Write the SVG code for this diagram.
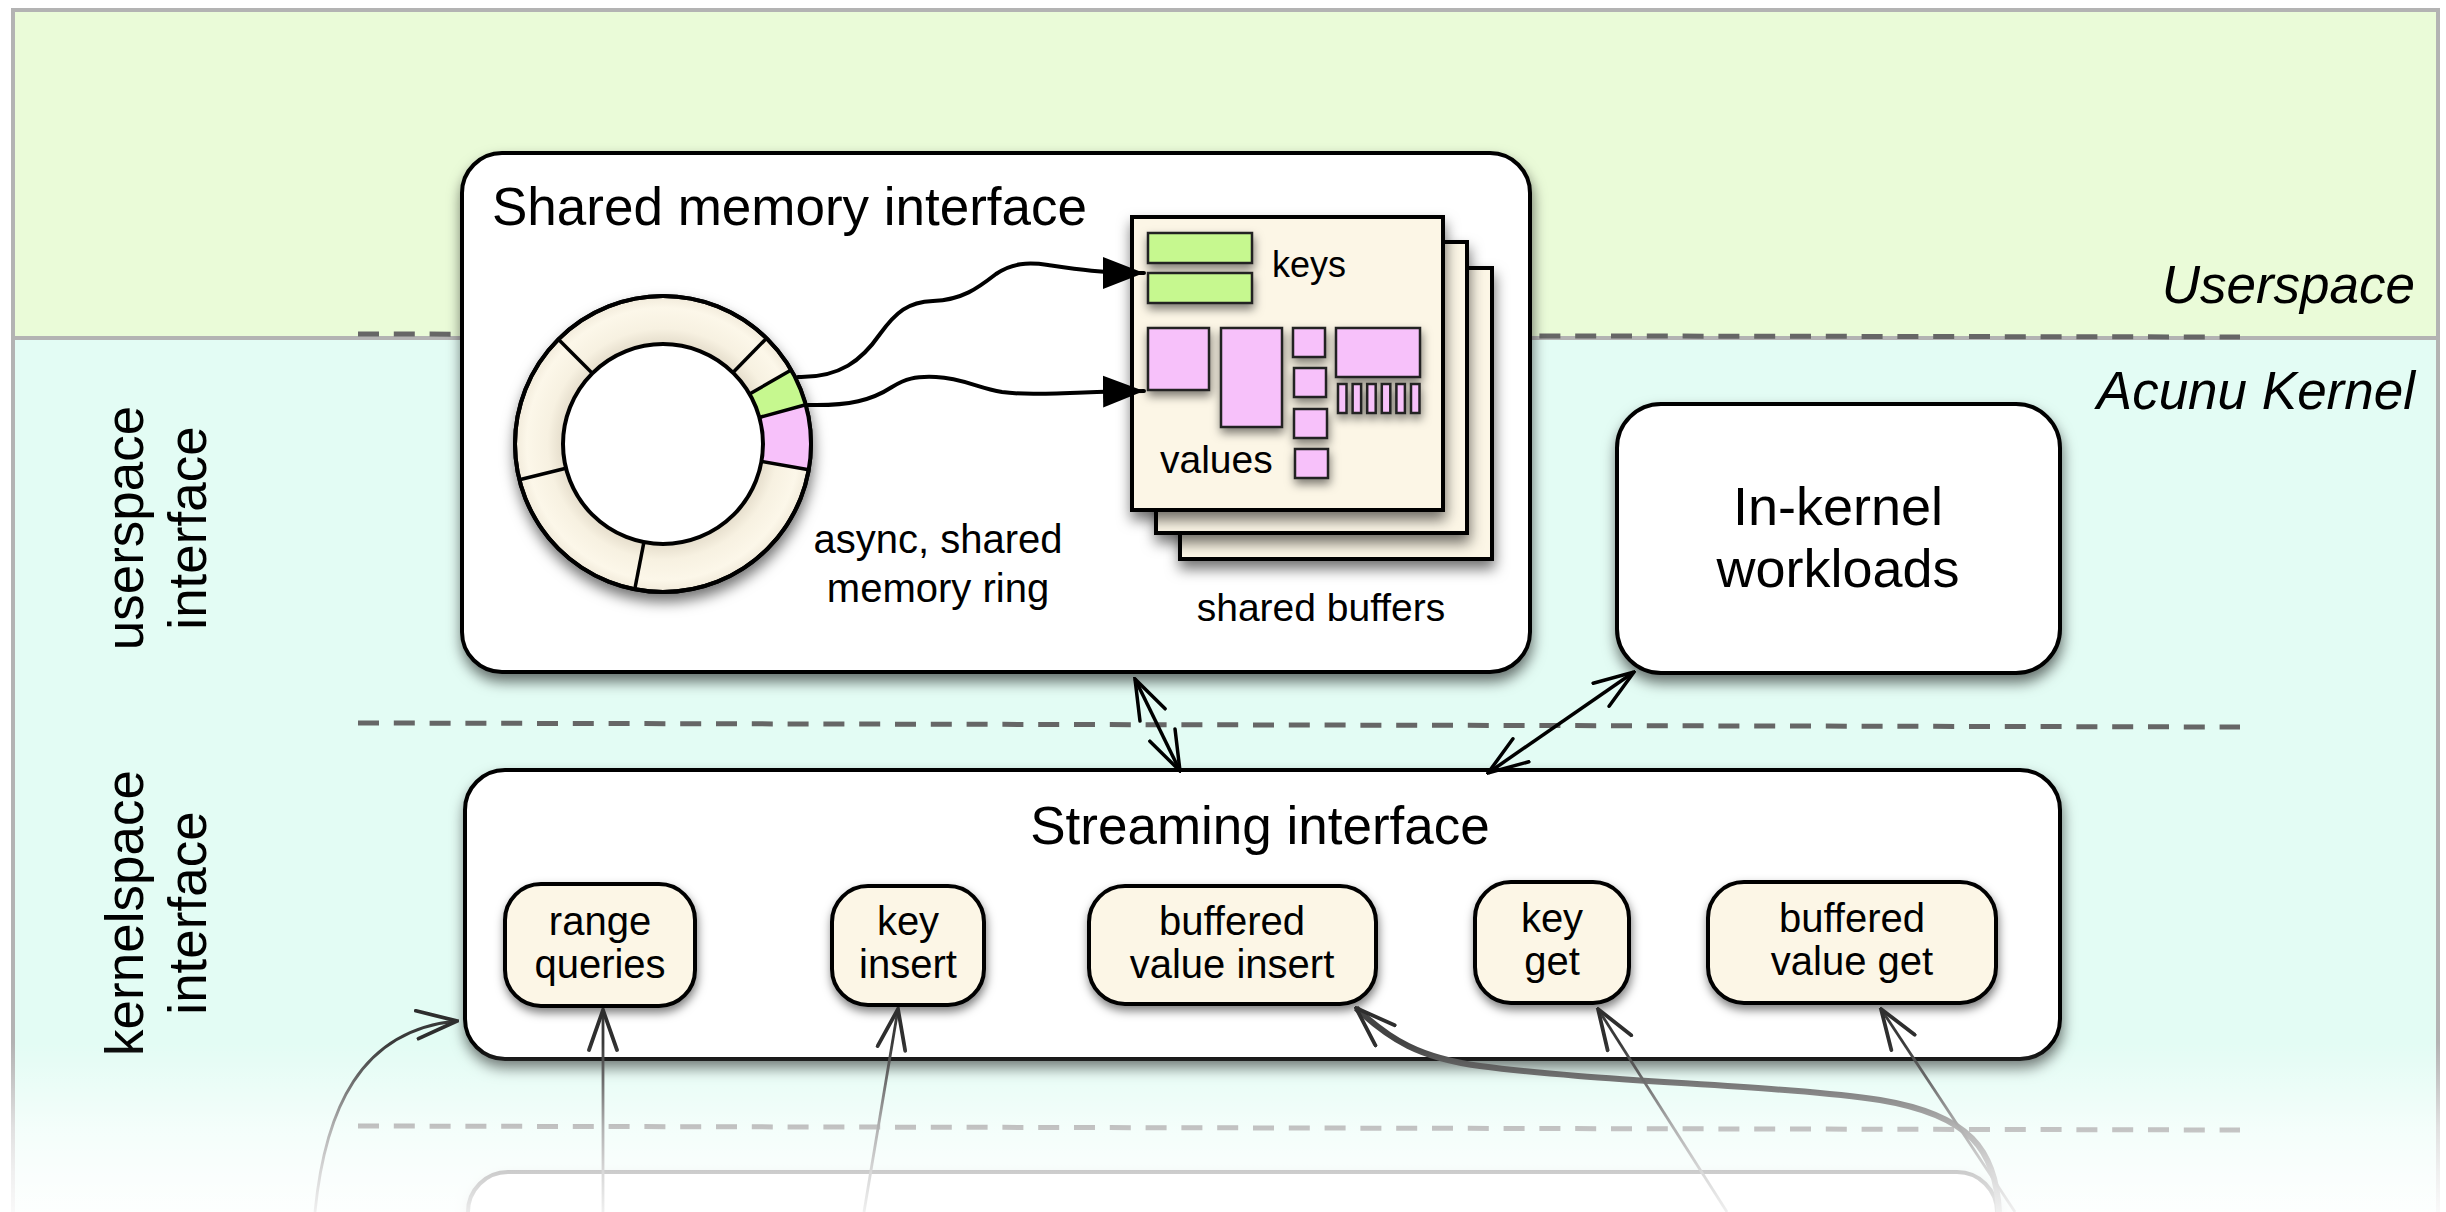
<svg xmlns="http://www.w3.org/2000/svg" width="2446" height="1212" viewBox="0 0 2446 1212">
  <defs>
    <style>
      .t { font-family: "Liberation Sans", Arial, Helvetica, sans-serif; fill: #000; }
      .ti { font-family: "Liberation Sans", Arial, Helvetica, sans-serif; font-style: italic; fill: #000; }
      .box { fill: #fff; stroke: #000; stroke-width: 4; }
      .op { fill: #fcf6e6; stroke: #000; stroke-width: 4; }
      .page { fill: #fcf6e6; stroke: #000; stroke-width: 4; }
      .key { fill: #c6f88f; stroke: #222; stroke-width: 2.5; }
      .val { fill: #f7c1fa; stroke: #222; stroke-width: 2.5; }
      .dash { fill: none; stroke: #666; stroke-width: 5; stroke-dasharray: 21 14.8; }
      .frame { fill: none; stroke: #b3b3b3; stroke-width: 4; }
      .blk { fill: none; stroke: #000; stroke-width: 3.5; }
      .gry { fill: none; stroke: #3a3a3a; stroke-width: 2.8; }
      .wave { fill: none; stroke: #000; stroke-width: 4; stroke-linecap: round; }
    </style>
    <filter id="shadow" x="-10%" y="-10%" width="130%" height="140%">
      <feDropShadow dx="1" dy="8" stdDeviation="7" flood-color="#000" flood-opacity="0.55"/>
    </filter>
    <filter id="shadowSm" x="-20%" y="-20%" width="150%" height="160%">
      <feDropShadow dx="1" dy="5" stdDeviation="5" flood-color="#000" flood-opacity="0.5"/>
    </filter>
    <marker id="headOpen" viewBox="0 0 44 32" refX="42" refY="16" markerWidth="44" markerHeight="32" markerUnits="userSpaceOnUse" orient="auto-start-reverse">
      <path d="M2,2 L42,16 L2,30" fill="none" stroke="#000" stroke-width="3.5" stroke-linecap="round"/>
    </marker>
    <marker id="headGray" viewBox="0 0 44 32" refX="42" refY="16" markerWidth="44" markerHeight="32" markerUnits="userSpaceOnUse" orient="auto">
      <path d="M2,2 L42,16 L2,30" fill="none" stroke="#2e2e2e" stroke-width="3.8" stroke-linecap="round"/>
    </marker>
    <marker id="headSolid" viewBox="0 0 42 34" refX="41" refY="17" markerWidth="42" markerHeight="34" markerUnits="userSpaceOnUse" orient="auto">
      <path d="M0,1 L41,17 L0,33 Z" fill="#000"/>
    </marker>
    <radialGradient id="ringGrad" gradientUnits="userSpaceOnUse" cx="663" cy="444" r="148">
      <stop offset="0.66" stop-color="#e2dac8"/>
      <stop offset="0.78" stop-color="#f7f1e1"/>
      <stop offset="0.92" stop-color="#fcf7e9"/>
      <stop offset="1" stop-color="#f1eada"/>
    </radialGradient>
    <linearGradient id="fade" gradientUnits="userSpaceOnUse" x1="0" y1="1000" x2="0" y2="1212">
      <stop offset="0" stop-color="#fff" stop-opacity="0"/>
      <stop offset="0.2" stop-color="#fff" stop-opacity="0"/>
      <stop offset="0.33" stop-color="#fff" stop-opacity="0.18"/>
      <stop offset="0.6" stop-color="#fff" stop-opacity="0.6"/>
      <stop offset="0.81" stop-color="#fff" stop-opacity="0.8"/>
      <stop offset="1" stop-color="#fff" stop-opacity="0.92"/>
    </linearGradient>
  </defs>

  <!-- layer bands -->
  <g id="layers">
    <rect x="0" y="0" width="2446" height="1212" fill="#fff"/>
    <rect x="13" y="10" width="2425" height="328" fill="#eafbd8"/>
    <rect x="13" y="338" width="2425" height="874" fill="#e3fcf4"/>
    <line class="frame" x1="13" y1="10" x2="2438" y2="10"/>
    <line class="frame" x1="13" y1="338" x2="2438" y2="338"/>
    <line class="frame" x1="13" y1="8" x2="13" y2="1212"/>
    <line class="frame" x1="2438" y1="8" x2="2438" y2="1212"/>
    <line class="dash" x1="358" y1="334" x2="2240" y2="337"/>
    <line class="dash" x1="358" y1="723" x2="2240" y2="727"/>
    <line class="dash" x1="358" y1="1126" x2="2240" y2="1130"/>
    <text class="ti" x="2415" y="303" font-size="53" text-anchor="end">Userspace</text>
    <text class="ti" x="2415" y="409" font-size="53" text-anchor="end">Acunu Kernel</text>
    <g transform="translate(143,528) rotate(-90)">
      <text class="t" x="0" y="0" font-size="53" text-anchor="middle">userspace</text>
    </g>
    <g transform="translate(206,528) rotate(-90)">
      <text class="t" x="0" y="0" font-size="53" text-anchor="middle">interface</text>
    </g>
    <g transform="translate(143,913) rotate(-90)">
      <text class="t" x="0" y="0" font-size="53" text-anchor="middle">kernelspace</text>
    </g>
    <g transform="translate(206,913) rotate(-90)">
      <text class="t" x="0" y="0" font-size="53" text-anchor="middle">interface</text>
    </g>
  </g>

  <!-- shared memory interface -->
  <g id="shared-memory">
    <rect class="box" x="462" y="153" width="1068" height="519" rx="40" filter="url(#shadow)"/>
    <text class="t" x="492" y="225" font-size="53">Shared memory interface</text>

    <g id="ring">
      <circle cx="663" cy="444" r="148" fill="url(#ringGrad)" stroke="#000" stroke-width="4" filter="url(#shadow)"/>
      <path d="M791.17,370 A148,148 0 0 1 805.69,404.69 L759.41,417.44 A100,100 0 0 0 749.6,394 Z" fill="#c6f88f"/>
      <path d="M805.69,404.69 A148,148 0 0 1 808.75,469.7 L761.48,461.36 A100,100 0 0 0 759.41,417.44 Z" fill="#f7c1fa"/>
      <g stroke="#000" stroke-width="3.5">
        <line x1="592.29" y1="373.29" x2="558.35" y2="339.35"/>
        <line x1="732.97" y1="372.55" x2="766.56" y2="338.25"/>
        <line x1="749.6" y1="394" x2="791.17" y2="370"/>
        <line x1="759.41" y1="417.44" x2="805.69" y2="404.69"/>
        <line x1="761.48" y1="461.36" x2="808.75" y2="469.7"/>
        <line x1="643.92" y1="542.16" x2="634.76" y2="589.28"/>
        <line x1="565.97" y1="468.19" x2="519.4" y2="479.81"/>
      </g>
      <circle cx="663" cy="444" r="100" fill="#fff" stroke="#000" stroke-width="4"/>
      <circle cx="663" cy="444" r="148" fill="none" stroke="#000" stroke-width="4"/>
    </g>
    <text class="t" x="938" y="553" font-size="40" text-anchor="middle">async, shared</text>
    <text class="t" x="938" y="602" font-size="40" text-anchor="middle">memory ring</text>

    <g id="buffers">
      <rect class="page" x="1180" y="268" width="312" height="291" filter="url(#shadow)"/>
      <rect class="page" x="1156" y="242" width="311" height="291" filter="url(#shadow)"/>
      <rect class="page" x="1132" y="217" width="311" height="293" filter="url(#shadow)"/>
      <g filter="url(#shadowSm)">
        <rect class="key" x="1148" y="233" width="104" height="30"/>
        <rect class="key" x="1148" y="273" width="104" height="30"/>
        <rect class="val" x="1148" y="328" width="61" height="62"/>
        <rect class="val" x="1221" y="328" width="61" height="99"/>
        <rect class="val" x="1293" y="328" width="32" height="29"/>
        <rect class="val" x="1294" y="368" width="32" height="29"/>
        <rect class="val" x="1294" y="409" width="33" height="29"/>
        <rect class="val" x="1295" y="449" width="33" height="29"/>
        <rect class="val" x="1336" y="328" width="84" height="49"/>
        <rect class="val" x="1338" y="384" width="8.5" height="29"/>
        <rect class="val" x="1352.6" y="384" width="8.5" height="29"/>
        <rect class="val" x="1367.2" y="384" width="8.5" height="29"/>
        <rect class="val" x="1381.8" y="384" width="8.5" height="29"/>
        <rect class="val" x="1396.4" y="384" width="8.5" height="29"/>
        <rect class="val" x="1411" y="384" width="8.5" height="29"/>
      </g>
      <text class="t" x="1272" y="277" font-size="36">keys</text>
      <text class="t" x="1160" y="473" font-size="39">values</text>
    </g>
    <text class="t" x="1321" y="621" font-size="39" text-anchor="middle">shared buffers</text>
  </g>

  <!-- in-kernel workloads -->
  <g id="in-kernel">
    <rect class="box" x="1617" y="404" width="443" height="269" rx="44" filter="url(#shadow)"/>
    <text class="t" x="1838" y="525" font-size="54" text-anchor="middle">In-kernel</text>
    <text class="t" x="1838" y="587" font-size="54" text-anchor="middle">workloads</text>
  </g>

  <!-- streaming interface -->
  <g id="streaming">
    <rect class="box" x="465" y="770" width="1595" height="289" rx="40" filter="url(#shadow)"/>
    <text class="t" x="1260" y="844" font-size="53" text-anchor="middle">Streaming interface</text>
    <g id="range-queries">
      <rect class="op" x="505" y="884" width="190" height="122" rx="36" filter="url(#shadowSm)"/>
      <text class="t" x="600" y="935" font-size="40" text-anchor="middle">range</text>
      <text class="t" x="600" y="978" font-size="40" text-anchor="middle">queries</text>
    </g>
    <g id="key-insert">
      <rect class="op" x="832" y="886" width="152" height="119" rx="36" filter="url(#shadowSm)"/>
      <text class="t" x="908" y="935" font-size="40" text-anchor="middle">key</text>
      <text class="t" x="908" y="978" font-size="40" text-anchor="middle">insert</text>
    </g>
    <g id="buffered-value-insert">
      <rect class="op" x="1089" y="886" width="287" height="118" rx="36" filter="url(#shadowSm)"/>
      <text class="t" x="1232" y="935" font-size="40" text-anchor="middle">buffered</text>
      <text class="t" x="1232" y="978" font-size="40" text-anchor="middle">value insert</text>
    </g>
    <g id="key-get">
      <rect class="op" x="1475" y="882" width="154" height="121" rx="36" filter="url(#shadowSm)"/>
      <text class="t" x="1552" y="932" font-size="40" text-anchor="middle">key</text>
      <text class="t" x="1552" y="975" font-size="40" text-anchor="middle">get</text>
    </g>
    <g id="buffered-value-get">
      <rect class="op" x="1708" y="882" width="288" height="121" rx="36" filter="url(#shadowSm)"/>
      <text class="t" x="1852" y="932" font-size="40" text-anchor="middle">buffered</text>
      <text class="t" x="1852" y="975" font-size="40" text-anchor="middle">value get</text>
    </g>
  </g>

  <!-- layer below, mostly faded out -->
  <g id="lower-layer">
    <rect class="box" x="468" y="1172" width="1529" height="200" rx="40" filter="url(#shadow)"/>
  </g>

  <!-- connectors -->
  <g id="connectors">
    <path class="wave" d="M798,377 C840,378 862,360 880,334 C896,312 908,302 933,301 C962,300 978,288 996,274 C1012,263 1028,262 1048,265 C1075,269 1100,273 1144,273" marker-end="url(#headSolid)"/>
    <path class="wave" d="M808,405 C850,406 872,400 892,387 C905,379 915,376 936,377 C962,378 978,388 1002,392 C1030,396 1070,392 1144,391" marker-end="url(#headSolid)"/>
    <line class="blk" x1="1180" y1="771" x2="1135" y2="679" marker-start="url(#headOpen)" marker-end="url(#headOpen)"/>
    <line class="blk" x1="1488" y1="773" x2="1634" y2="672" marker-start="url(#headOpen)" marker-end="url(#headOpen)"/>
    <path class="gry" stroke-width="4" d="M315,1212 C325,1110 360,1030 457,1021" marker-end="url(#headGray)"/>
    <line class="gry" x1="603" y1="1212" x2="603" y2="1010" marker-end="url(#headGray)"/>
    <line class="gry" x1="864" y1="1212" x2="898" y2="1009" marker-end="url(#headGray)"/>
    <path fill="none" stroke="#444" stroke-width="6" d="M1999,1212 C1996,1150 1970,1115 1880,1100 C1780,1085 1600,1082 1480,1066 C1420,1058 1390,1040 1356,1008" marker-end="url(#headGray)"/>
    <line class="gry" x1="1727" y1="1212" x2="1598" y2="1009" marker-end="url(#headGray)"/>
    <line class="gry" x1="2015" y1="1212" x2="1881" y2="1009" marker-end="url(#headGray)"/>
  </g>

  <!-- fade towards the bottom edge -->
  <rect x="0" y="1000" width="2446" height="212" fill="url(#fade)"/>
</svg>
